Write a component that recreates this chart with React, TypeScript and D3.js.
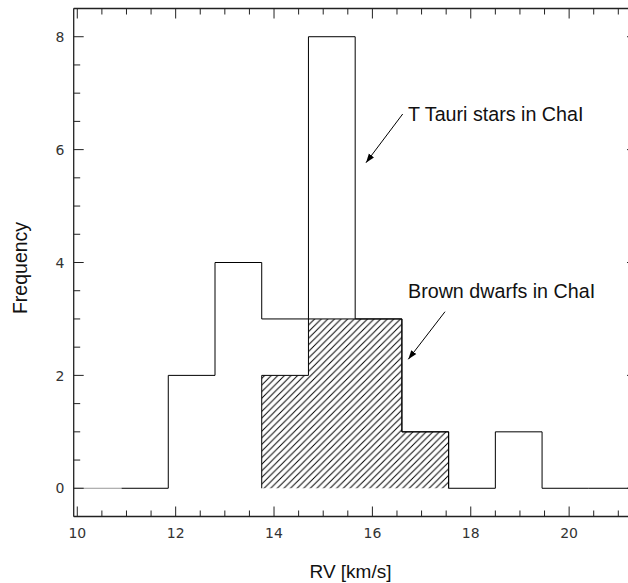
import React from "react";
import * as d3 from "d3";

const binEdgesStart = 10.9;
const binWidth = 0.95;
const tTauriCounts = [0, 2, 4, 3, 8, 3, 1, 0, 1, 0, 0];
const brownDwarfStartBin = 3;
const brownDwarfCounts = [2, 3, 3, 1];
const xTickLabels = [10, 12, 14, 16, 18, 20];
const yTickLabels = [0, 2, 4, 6, 8];
const xMinorTicks = d3.range(20, 43).map((d) => d / 2);
const yMinorTicks = d3.range(-1, 18).map((d) => d / 2);

const W = 628;
const H = 583;

function stepPath(x: d3.ScaleLinear<number, number>, y: d3.ScaleLinear<number, number>, start: number, counts: number[]) {
  const pts: [number, number][] = [[x(start), y(0)]];
  counts.forEach((c, i) => {
    const a = start + i * binWidth;
    const b = a + binWidth;
    pts.push([x(a), y(c)]);
    pts.push([x(b), y(c)]);
  });
  pts.push([x(start + counts.length * binWidth), y(0)]);
  return d3.line()(pts) as string;
}

export default function App() {
  const left = 73.7, right = 637, top = 8.5, bottom = 516.5;
  const x = d3.scaleLinear().domain([9.927, 21.38]).range([left, right]);
  const y = d3.scaleLinear().domain([-0.5, 8.5]).range([bottom, top]);

  const ttPath = stepPath(x, y, binEdgesStart, tTauriCounts);
  const bdStart = binEdgesStart + brownDwarfStartBin * binWidth;
  const bdPath = stepPath(x, y, bdStart, brownDwarfCounts);

  const axisColor = "#222";
  const tickFont = "DejaVu Sans, sans-serif";
  const labelFont = "Liberation Sans, Arial, sans-serif";

  return (
    <svg width={W} height={H} style={{ position: "absolute", left: 0, top: 0, background: "#fff" }}>
      <defs>
        <pattern id="hatch" patternUnits="userSpaceOnUse" width={6.6} height={6.6}>
          <path d="M-1,1 L1,-1 M0,6.6 L6.6,0 M5.6,7.6 L7.6,5.6" stroke="#000" strokeWidth={1} />
        </pattern>
        <marker id="arrow" viewBox="0 0 10 10" refX={10} refY={5} markerWidth={9} markerHeight={9} orient="auto" markerUnits="userSpaceOnUse">
          <path d="M0,1.5 L10,5 L0,8.5 Z" fill="#000" />
        </marker>
      </defs>
      <rect x={0} y={0} width={W} height={H} fill="#fff" />

      {/* baseline before first bin */}
      <line x1={x.range()[0]} x2={x(binEdgesStart)} y1={y(0)} y2={y(0)} stroke="#999" strokeWidth={1} />

      {/* brown dwarf hatched */}
      <path d={bdPath + "Z"} fill="url(#hatch)" stroke="none" />
      <path d={bdPath} fill="none" stroke="#000" strokeWidth={1} />
      {/* T Tauri outline */}
      <path d={ttPath} fill="none" stroke="#000" strokeWidth={1} />

      {/* axes frame */}
      <line x1={left} x2={right} y1={top} y2={top} stroke={axisColor} strokeWidth={1.3} />
      <line x1={left} x2={right} y1={bottom} y2={bottom} stroke={axisColor} strokeWidth={1.3} />
      <line x1={left} x2={left} y1={top} y2={bottom} stroke={axisColor} strokeWidth={1.3} />
      <line x1={right} x2={right} y1={top} y2={bottom} stroke={axisColor} strokeWidth={1.3} />

      {/* x ticks */}
      {xMinorTicks.map((v) => {
        const major = v % 2 === 0;
        const len = major ? 10 : 6;
        return (
          <g key={"xt" + v}>
            <line x1={x(v)} x2={x(v)} y1={bottom} y2={bottom - len} stroke={axisColor} strokeWidth={1} />
            <line x1={x(v)} x2={x(v)} y1={top} y2={top + len} stroke={axisColor} strokeWidth={1} />
          </g>
        );
      })}
      {/* y ticks */}
      {yMinorTicks.map((v) => {
        const major = v % 2 === 0;
        const len = major ? 10 : 6.5;
        return (
          <g key={"yt" + v}>
            <line x1={left} x2={left + len} y1={y(v)} y2={y(v)} stroke={axisColor} strokeWidth={1} />
            <line x1={right} x2={right - len} y1={y(v)} y2={y(v)} stroke={axisColor} strokeWidth={1} />
          </g>
        );
      })}

      {xTickLabels.map((v) => (
        <text key={"xl" + v} x={x(v)} y={537.5} textAnchor="middle" fontFamily={tickFont} fontSize={14} fill="#333">
          {v}
        </text>
      ))}
      {yTickLabels.map((v) => (
        <text key={"yl" + v} x={64.5} y={y(v) + 5.2} textAnchor="end" fontFamily={tickFont} fontSize={14} fill="#333">
          {v}
        </text>
      ))}

      <text x={350.5} y={577.5} textAnchor="middle" fontFamily={labelFont} fontSize={19} fill="#111">
        RV [km/s]
      </text>
      <text transform="translate(26.5,268) rotate(-90)" textAnchor="middle" fontFamily={labelFont} fontSize={19.5} fill="#111">
        Frequency
      </text>

      <text x={408} y={121} fontFamily={labelFont} fontSize={19.7} fill="#111">
        T Tauri stars in ChaI
      </text>
      <line x1={402.7} y1={114} x2={366} y2={162.7} stroke="#000" strokeWidth={1} markerEnd="url(#arrow)" />

      <text x={408} y={298.3} fontFamily={labelFont} fontSize={19.7} fill="#111">
        Brown dwarfs in ChaI
      </text>
      <line x1={445} y1={311.7} x2={408.3} y2={359.3} stroke="#000" strokeWidth={1} markerEnd="url(#arrow)" />
    </svg>
  );
}
